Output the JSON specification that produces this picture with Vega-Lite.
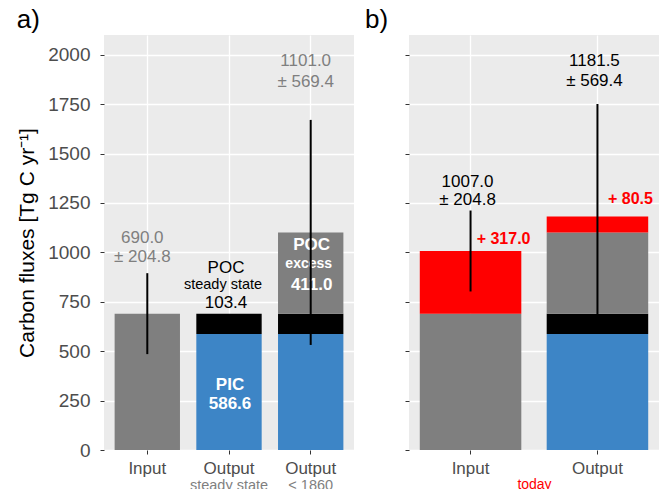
{
  "$schema": "https://vega.github.io/schema/vega-lite/v6.json",
  "padding": {"left": 16, "top": 7, "right": 4, "bottom": 0},
  "background": "white",
  "config": {
    "font": "Liberation Sans",
    "view": {"fill": "#ebebeb", "stroke": null},
    "axis": {"gridColor": "white", "gridWidth": 1.3, "domain": false, "tickColor": "#333333", "tickSize": 4, "labelColor": "#4d4d4d", "labelFont": "Liberation Sans", "titleFont": "Liberation Sans"},
    "axisY": {"format": "d"},
    "title": {"fontSize": 26, "fontWeight": "normal", "color": "black", "anchor": "start", "baseline": "alphabetic", "offset": 2}
  },
  "datasets": {
    "barsA": [
      {"cat": "Input", "comp": "Input", "ord": 1, "value": 690.0},
      {"cat": "Output_ss", "comp": "PIC", "ord": 1, "value": 586.6},
      {"cat": "Output_ss", "comp": "POC steady state", "ord": 2, "value": 103.4},
      {"cat": "Output_1860", "comp": "PIC", "ord": 1, "value": 586.6},
      {"cat": "Output_1860", "comp": "POC steady state", "ord": 2, "value": 103.4},
      {"cat": "Output_1860", "comp": "POC excess", "ord": 3, "value": 411.0}
    ],
    "errA": [
      {"cat": "Input", "lo": 485.2, "hi": 894.8},
      {"cat": "Output_1860", "lo": 531.6, "hi": 1670.4}
    ],
    "grayA": [
      {"cat": "Input", "txt": "690.0", "y": 1050},
      {"cat": "Input", "txt": "± 204.8", "y": 949},
      {"cat": "Output_1860", "txt": "1101.0", "y": 1945},
      {"cat": "Output_1860", "txt": "± 569.4", "y": 1839}
    ],
    "blackA": [
      {"cat": "Output_ss", "txt": "POC", "y": 898},
      {"cat": "Output_ss", "txt": "103.4", "y": 721}
    ],
    "blackSmallA": [
      {"cat": "Output_ss", "txt": "steady state", "y": 817}
    ],
    "whiteA": [
      {"cat": "Output_ss", "txt": "PIC", "y": 306},
      {"cat": "Output_ss", "txt": "586.6", "y": 206},
      {"cat": "Output_1860", "txt": "POC", "y": 1010},
      {"cat": "Output_1860", "txt": "411.0", "y": 811}
    ],
    "whiteSmallA": [
      {"cat": "Output_1860", "txt": "excess", "y": 919}
    ],
    "barsB": [
      {"cat": "Input", "comp": "Input", "ord": 1, "value": 690.0},
      {"cat": "Input", "comp": "Increase", "ord": 2, "value": 317.0},
      {"cat": "Output", "comp": "PIC", "ord": 1, "value": 586.6},
      {"cat": "Output", "comp": "POC steady state", "ord": 2, "value": 103.4},
      {"cat": "Output", "comp": "POC excess", "ord": 3, "value": 411.0},
      {"cat": "Output", "comp": "Increase", "ord": 4, "value": 80.5}
    ],
    "errB": [
      {"cat": "Input", "lo": 802.2, "hi": 1211.8},
      {"cat": "Output", "lo": 612.1, "hi": 1750.9}
    ],
    "blackB": [
      {"cat": "Input", "txt": "1007.0", "y": 1332},
      {"cat": "Input", "txt": "± 204.8", "y": 1242},
      {"cat": "Output", "txt": "1181.5", "y": 1945},
      {"cat": "Output", "txt": "± 569.4", "y": 1844}
    ],
    "redB": [
      {"cat": "Input", "txt": "+ 317.0", "y": 1040},
      {"cat": "Output", "txt": "+ 80.5", "y": 1247}
    ]
  },
  "bounds": "flush",
  "spacing": 55,
  "hconcat": [
    {
      "width": 250,
      "height": 415,
      "title": {"text": "a)", "frame": "bounds"},
      "resolve": {"axis": {"x": "independent"}, "scale": {"x": "shared"}},
      "layer": [
        {
          "data": {"name": "barsA"},
          "mark": {"type": "bar"},
          "encoding": {
            "x": {"field": "cat", "type": "nominal", "sort": ["Input", "Output_ss", "Output_1860"],
              "scale": {"domain": ["Input", "Output_ss", "Output_1860"], "paddingInner": 0.2, "paddingOuter": 0.13},
              "axis": {"orient": "bottom", "title": null, "labelAngle": 0, "labelFontSize": 17, "labelPadding": 6, "grid": true, "bandPosition": 0.5,
                "labelExpr": "datum.value == 'Input' ? 'Input' : 'Output'"}},
            "y": {"field": "value", "type": "quantitative", "stack": "zero",
              "scale": {"domain": [0, 2100], "nice": false},
              "axis": {"values": [0, 250, 500, 750, 1000, 1250, 1500, 1750, 2000], "title": "Carbon fluxes [Tg C yr⁻¹]", "titleFontSize": 21, "titleFontWeight": "normal", "titleColor": "black", "labelFontSize": 19, "labelPadding": 10, "titlePadding": 10, "grid": true}},
            "color": {"field": "comp", "type": "nominal", "legend": null,
              "scale": {"domain": ["Input", "PIC", "POC steady state", "POC excess", "Increase"], "range": ["#7f7f7f", "#3d85c6", "#000000", "#7f7f7f", "#ff0000"]}},
            "order": {"field": "ord", "type": "quantitative"}
          }
        },
        {
          "data": {"name": "grayA"},
          "mark": {"type": "text", "fontSize": 17, "color": "#7f7f7f", "baseline": "alphabetic", "dx": -5},
          "encoding": {
            "x": {"field": "cat", "type": "nominal", "scale": {"domain": ["Input", "Output_ss", "Output_1860"]}, "axis": null},
            "y": {"field": "y", "type": "quantitative", "scale": {"domain": [0, 2100], "nice": false},
              "axis": {"values": [0, 250, 500, 750, 1000, 1250, 1500, 1750, 2000], "title": "Carbon fluxes [Tg C yr⁻¹]", "titleFontSize": 21, "titleFontWeight": "normal", "titleColor": "black", "labelFontSize": 19, "labelPadding": 10, "titlePadding": 10, "grid": true}},
            "text": {"field": "txt"}
          }
        },
        {
          "data": {"name": "blackA"},
          "mark": {"type": "text", "fontSize": 17, "color": "black", "baseline": "alphabetic", "dx": -3},
          "encoding": {
            "x": {"field": "cat", "type": "nominal", "scale": {"domain": ["Input", "Output_ss", "Output_1860"]}, "axis": null},
            "y": {"field": "y", "type": "quantitative", "scale": {"domain": [0, 2100], "nice": false},
              "axis": {"values": [0, 250, 500, 750, 1000, 1250, 1500, 1750, 2000], "title": "Carbon fluxes [Tg C yr⁻¹]", "titleFontSize": 21, "titleFontWeight": "normal", "titleColor": "black", "labelFontSize": 19, "labelPadding": 10, "titlePadding": 10, "grid": true}},
            "text": {"field": "txt"}
          }
        },
        {
          "data": {"name": "blackSmallA"},
          "mark": {"type": "text", "fontSize": 14.5, "color": "black", "baseline": "alphabetic", "dx": -6},
          "encoding": {
            "x": {"field": "cat", "type": "nominal", "scale": {"domain": ["Input", "Output_ss", "Output_1860"]}, "axis": null},
            "y": {"field": "y", "type": "quantitative", "scale": {"domain": [0, 2100], "nice": false},
              "axis": {"values": [0, 250, 500, 750, 1000, 1250, 1500, 1750, 2000], "title": "Carbon fluxes [Tg C yr⁻¹]", "titleFontSize": 21, "titleFontWeight": "normal", "titleColor": "black", "labelFontSize": 19, "labelPadding": 10, "titlePadding": 10, "grid": true}},
            "text": {"field": "txt"}
          }
        },
        {
          "data": {"name": "whiteA"},
          "mark": {"type": "text", "fontSize": 17, "fontWeight": "bold", "color": "white", "baseline": "alphabetic", "dx": 1},
          "encoding": {
            "x": {"field": "cat", "type": "nominal", "scale": {"domain": ["Input", "Output_ss", "Output_1860"]}, "axis": null},
            "y": {"field": "y", "type": "quantitative", "scale": {"domain": [0, 2100], "nice": false},
              "axis": {"values": [0, 250, 500, 750, 1000, 1250, 1500, 1750, 2000], "title": "Carbon fluxes [Tg C yr⁻¹]", "titleFontSize": 21, "titleFontWeight": "normal", "titleColor": "black", "labelFontSize": 19, "labelPadding": 10, "titlePadding": 10, "grid": true}},
            "text": {"field": "txt"}
          }
        },
        {
          "data": {"name": "whiteSmallA"},
          "mark": {"type": "text", "fontSize": 14, "fontWeight": "bold", "color": "white", "baseline": "alphabetic", "dx": -2},
          "encoding": {
            "x": {"field": "cat", "type": "nominal", "scale": {"domain": ["Input", "Output_ss", "Output_1860"]}, "axis": null},
            "y": {"field": "y", "type": "quantitative", "scale": {"domain": [0, 2100], "nice": false},
              "axis": {"values": [0, 250, 500, 750, 1000, 1250, 1500, 1750, 2000], "title": "Carbon fluxes [Tg C yr⁻¹]", "titleFontSize": 21, "titleFontWeight": "normal", "titleColor": "black", "labelFontSize": 19, "labelPadding": 10, "titlePadding": 10, "grid": true}},
            "text": {"field": "txt"}
          }
        },
        {
          "data": {"name": "errA"},
          "mark": {"type": "rule", "color": "black", "strokeWidth": 2},
          "encoding": {
            "x": {"field": "cat", "type": "nominal", "scale": {"domain": ["Input", "Output_ss", "Output_1860"]},
              "axis": {"orient": "bottom", "title": null, "labelAngle": 0, "ticks": false, "grid": false, "domain": false, "labelFontSize": 14.5, "labelColor": "#7f7f7f", "labelPadding": 28,
                "labelExpr": "datum.value == 'Output_ss' ? 'steady state' : (datum.value == 'Output_1860' ? '< 1860' : '')"}},
            "y": {"field": "lo", "type": "quantitative", "scale": {"domain": [0, 2100], "nice": false},
              "axis": {"values": [0, 250, 500, 750, 1000, 1250, 1500, 1750, 2000], "title": "Carbon fluxes [Tg C yr⁻¹]", "titleFontSize": 21, "titleFontWeight": "normal", "titleColor": "black", "labelFontSize": 19, "labelPadding": 10, "titlePadding": 10, "grid": true}},
            "y2": {"field": "hi"}
          }
        }
      ]
    },
    {
      "width": 250,
      "height": 415,
      "title": {"text": "b)", "frame": "group", "dx": -44},
      "layer": [
        {
          "data": {"name": "barsB"},
          "mark": {"type": "bar"},
          "encoding": {
            "x": {"field": "cat", "type": "nominal", "sort": ["Input", "Output"],
              "scale": {"domain": ["Input", "Output"], "paddingInner": 0.2, "paddingOuter": 0.085},
              "axis": {"title": "today", "titleColor": "#ff0000", "titleFontSize": 14, "titleFontWeight": "normal", "titlePadding": 1, "labelAngle": 0, "labelFontSize": 17, "labelPadding": 6, "grid": true, "bandPosition": 0.5}},
            "y": {"field": "value", "type": "quantitative", "stack": "zero",
              "scale": {"domain": [0, 2100], "nice": false},
              "axis": {"values": [0, 250, 500, 750, 1000, 1250, 1500, 1750, 2000], "title": null, "labels": false, "grid": true}},
            "color": {"field": "comp", "type": "nominal", "legend": null,
              "scale": {"domain": ["Input", "PIC", "POC steady state", "POC excess", "Increase"], "range": ["#7f7f7f", "#3d85c6", "#000000", "#7f7f7f", "#ff0000"]}},
            "order": {"field": "ord", "type": "quantitative"}
          }
        },
        {
          "data": {"name": "errB"},
          "mark": {"type": "rule", "color": "black", "strokeWidth": 2},
          "encoding": {
            "x": {"field": "cat", "type": "nominal", "scale": {"domain": ["Input", "Output"]},
              "axis": {"title": "today", "titleColor": "#ff0000", "titleFontSize": 14, "titleFontWeight": "normal", "titlePadding": 1, "labelAngle": 0, "labelFontSize": 17, "labelPadding": 6, "grid": true, "bandPosition": 0.5}},
            "y": {"field": "lo", "type": "quantitative", "scale": {"domain": [0, 2100], "nice": false},
              "axis": {"values": [0, 250, 500, 750, 1000, 1250, 1500, 1750, 2000], "title": null, "labels": false, "grid": true}},
            "y2": {"field": "hi"}
          }
        },
        {
          "data": {"name": "blackB"},
          "mark": {"type": "text", "fontSize": 17, "color": "black", "baseline": "alphabetic", "dx": -3},
          "encoding": {
            "x": {"field": "cat", "type": "nominal", "scale": {"domain": ["Input", "Output"]},
              "axis": {"title": "today", "titleColor": "#ff0000", "titleFontSize": 14, "titleFontWeight": "normal", "titlePadding": 1, "labelAngle": 0, "labelFontSize": 17, "labelPadding": 6, "grid": true, "bandPosition": 0.5}},
            "y": {"field": "y", "type": "quantitative", "scale": {"domain": [0, 2100], "nice": false},
              "axis": {"values": [0, 250, 500, 750, 1000, 1250, 1500, 1750, 2000], "title": null, "labels": false, "grid": true}},
            "text": {"field": "txt"}
          }
        },
        {
          "data": {"name": "redB"},
          "mark": {"type": "text", "fontSize": 16, "fontWeight": "bold", "color": "#ff0000", "baseline": "alphabetic", "dx": 33},
          "encoding": {
            "x": {"field": "cat", "type": "nominal", "scale": {"domain": ["Input", "Output"]},
              "axis": {"title": "today", "titleColor": "#ff0000", "titleFontSize": 14, "titleFontWeight": "normal", "titlePadding": 1, "labelAngle": 0, "labelFontSize": 17, "labelPadding": 6, "grid": true, "bandPosition": 0.5}},
            "y": {"field": "y", "type": "quantitative", "scale": {"domain": [0, 2100], "nice": false},
              "axis": {"values": [0, 250, 500, 750, 1000, 1250, 1500, 1750, 2000], "title": null, "labels": false, "grid": true}},
            "text": {"field": "txt"}
          }
        }
      ]
    }
  ]
}
